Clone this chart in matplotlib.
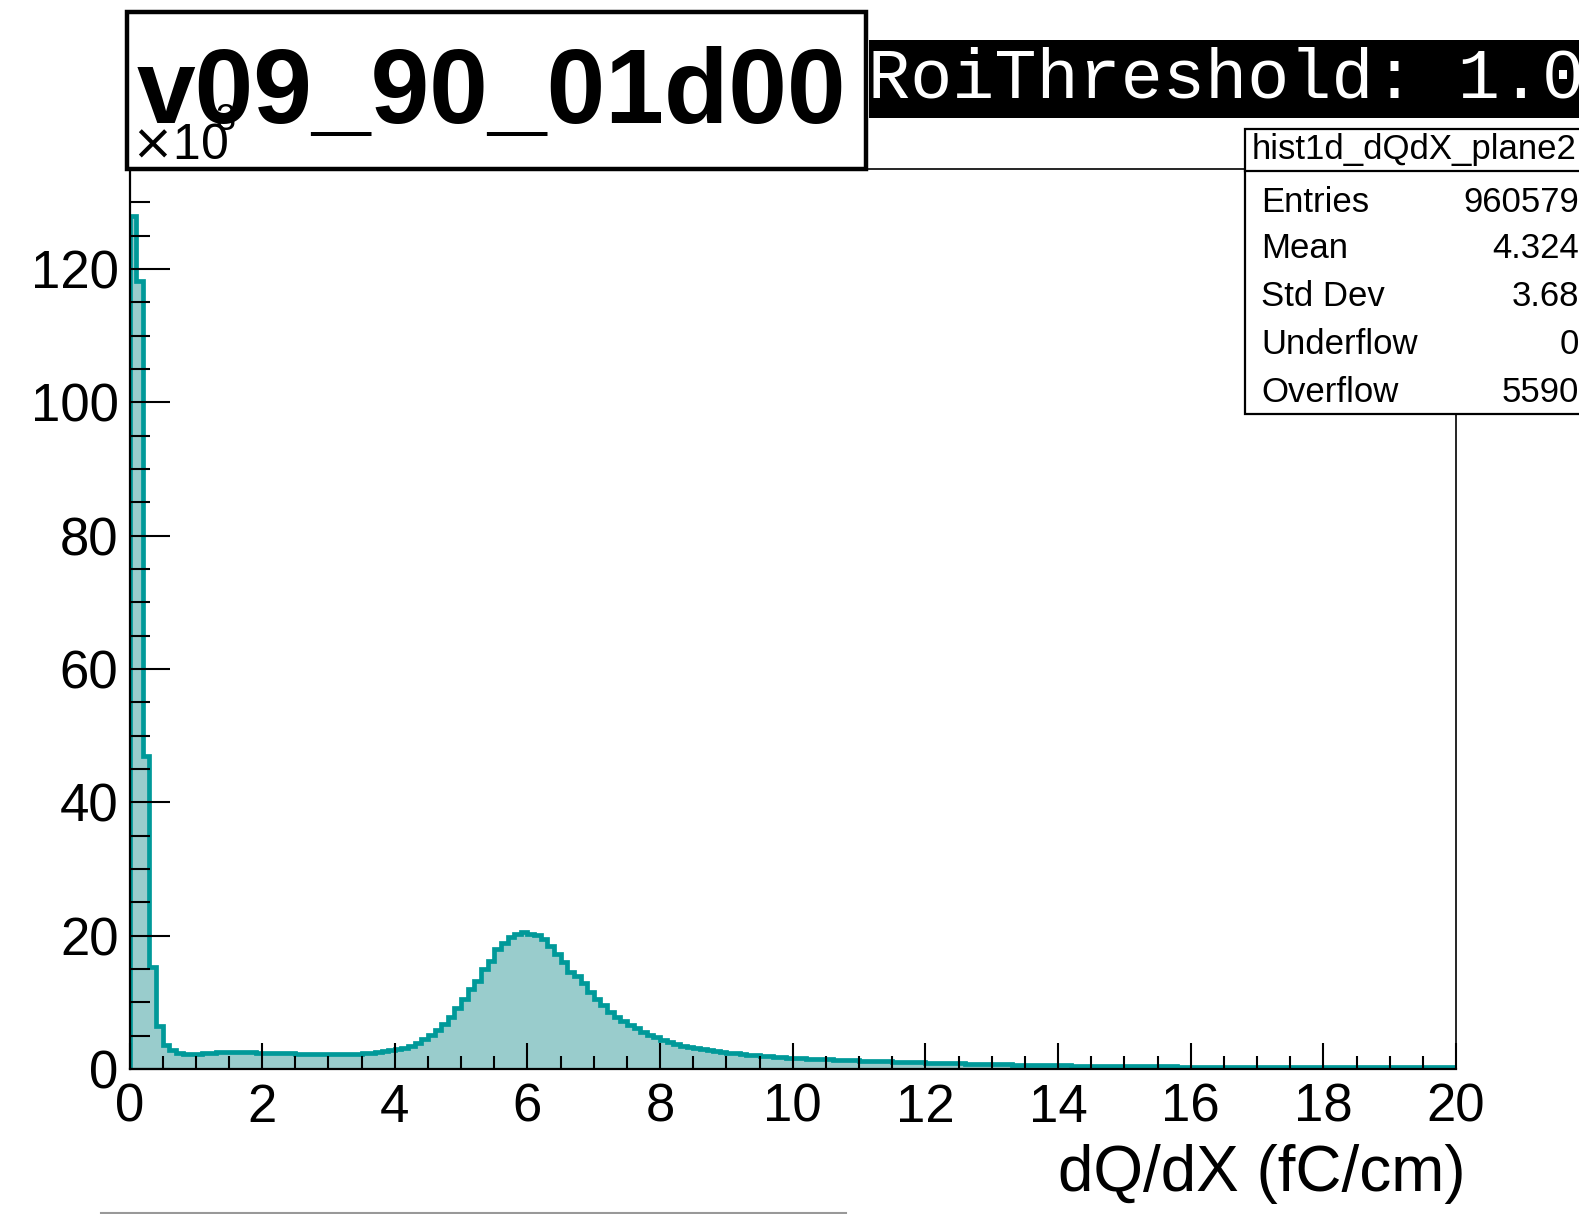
import numpy as np
import matplotlib
matplotlib.use("Agg")
import matplotlib.pyplot as plt
from matplotlib.patches import Rectangle
from matplotlib.lines import Line2D

plt.rcParams['font.family'] = ['Liberation Sans', 'DejaVu Sans']

# histogram contents (units of 10^3), 200 bins of 0.1 from 0 to 20
bin_edges = np.linspace(0, 20, 201)
counts = [
    128.0, 118.2, 47.0, 15.3, 6.4, 3.65, 2.8, 2.45, 2.3, 2.3,
    2.3, 2.35, 2.4, 2.5, 2.5, 2.55, 2.55, 2.5, 2.5, 2.45,
    2.45, 2.4, 2.4, 2.35, 2.35, 2.3, 2.3, 2.3, 2.3, 2.3,
    2.25, 2.25, 2.25, 2.25, 2.3, 2.35, 2.45, 2.55, 2.7, 2.85,
    2.95, 3.2, 3.5, 3.95, 4.45, 5.1, 5.85, 6.75, 7.75, 9.1,
    10.5, 12.0, 13.25, 14.95, 16.2, 17.95, 18.85, 19.85, 20.2, 20.6,
    20.25, 20.15, 19.45, 18.45, 17.25, 16.1, 14.6, 13.95, 12.85, 11.6,
    10.5, 9.6, 8.5, 7.85, 7.25, 6.6, 6.1, 5.6, 5.1, 4.75,
    4.35, 4.1, 3.75, 3.5, 3.35, 3.15, 3.0, 2.85, 2.75, 2.6,
    2.45, 2.35, 2.25, 2.15, 2.05, 1.95, 1.9, 1.85, 1.75, 1.7,
    1.65, 1.6, 1.55, 1.5, 1.5, 1.45, 1.4, 1.38, 1.35, 1.3,
    1.27, 1.23, 1.2, 1.16, 1.13, 1.1, 1.07, 1.04, 1.01, 0.98,
    0.95, 0.92, 0.9, 0.87, 0.85, 0.83, 0.8, 0.78, 0.76, 0.74,
    0.72, 0.7, 0.68, 0.66, 0.64, 0.62, 0.61, 0.59, 0.58, 0.56,
    0.55, 0.53, 0.52, 0.51, 0.5, 0.49, 0.48, 0.47, 0.46, 0.45,
    0.44, 0.43, 0.42, 0.41, 0.4, 0.4, 0.39, 0.38, 0.37, 0.37,
    0.36, 0.36, 0.35, 0.35, 0.34, 0.34, 0.33, 0.33, 0.32, 0.32,
    0.31, 0.31, 0.3, 0.3, 0.3, 0.29, 0.29, 0.29, 0.28, 0.28,
    0.28, 0.27, 0.27, 0.27, 0.26, 0.26, 0.26, 0.26, 0.25, 0.25,
    0.25, 0.25, 0.24, 0.24, 0.24, 0.24, 0.23, 0.23, 0.23, 0.23,
]

stat_labels = ["Entries", "Mean", "Std Dev", "Underflow", "Overflow"]
stat_values = ["960579", "4.324", "3.68", "0", "5590"]
hist_name = "hist1d_dQdX_plane2"
title = "v09_90_01d00"
tag = "RoiThreshold: 1.0"

W, H = 1579, 1214
fig = plt.figure(figsize=(W / 100, H / 100), dpi=100)
fig.patch.set_facecolor("white")

def fx(px):
    return px / W

def fy(py):
    return 1 - py / H

# frame of the histogram pad
x0, x1, y0, y1 = 129.5, 1456, 169, 1069
ax = fig.add_axes([fx(x0), fy(y1), fx(x1) - fx(x0), fy(y0) - fy(y1)])

ax.stairs(counts, bin_edges, fill=True, color="#99cccc", linewidth=0)
ax.stairs(counts, bin_edges, color="#009999", linewidth=3.4)

ax.set_xlim(0, 20)
ax.set_ylim(0, 135)
ax.set_xticks(np.arange(0, 21, 2))
ax.set_xticks(np.arange(0, 20.01, 0.5), minor=True)
ax.set_yticks(np.arange(0, 121, 20))
ax.set_yticks(np.arange(0, 131, 5), minor=True)
ax.tick_params(axis="both", which="both", direction="in", width=1.5, colors="black",
               top=False, right=False, labelsize=38)
ax.tick_params(axis="x", which="major", length=19, pad=10)
ax.tick_params(axis="x", which="minor", length=9.5)
ax.tick_params(axis="y", which="major", length=29, pad=8)
ax.tick_params(axis="y", which="minor", length=14.5)
for s in ["left", "bottom"]:
    ax.spines[s].set_linewidth(1.6)
for s in ["top", "right"]:
    ax.spines[s].set_linewidth(1.2)

fig.text(fx(1466), fy(1174), "dQ/dX (fC/cm)", fontsize=46, ha="right", va="center")

# title box
fig.add_artist(Rectangle((fx(127), fy(169)), fx(866) - fx(127), fy(12) - fy(169),
                         facecolor="white", edgecolor="black", linewidth=3.2,
                         transform=fig.transFigure, zorder=5))
fig.text(fx(491), fy(96), title, fontsize=76, fontweight="bold", ha="center",
         va="center", zorder=7)
fig.text(fx(131), fy(146), r"$\times$10", fontsize=36, ha="left", va="center", zorder=6)
fig.text(fx(216), fy(120), "3", fontsize=26, ha="left", va="center", zorder=6)

# black tag box
fig.add_artist(Rectangle((fx(869), fy(118)), 1.0, fy(40) - fy(118),
                         facecolor="black", edgecolor="none",
                         transform=fig.transFigure, zorder=5))
fig.text(fx(868), fy(80), tag, fontsize=50.5, color="white", ha="left", va="center",
         family="Liberation Mono", zorder=6)

# stats box
bx0, by0, by1 = 1245, 129, 414
fig.add_artist(Rectangle((fx(bx0), fy(by1)), 1.0, fy(by0) - fy(by1),
                         facecolor="white", edgecolor="black", linewidth=1.6,
                         transform=fig.transFigure, zorder=5))
fig.add_artist(Line2D([fx(bx0), 1.0], [fy(171), fy(171)], color="black",
                      linewidth=1.6, transform=fig.transFigure, zorder=6))
fig.text(fx(1252), fy(150), hist_name, fontsize=25, ha="left", va="center", zorder=6)
row_y = [203, 249, 297, 345, 393]
for lab, val, yy in zip(stat_labels, stat_values, row_y):
    fig.text(fx(1261), fy(yy), lab, fontsize=25, ha="left", va="center", zorder=6)
    fig.text(fx(1579), fy(yy), val, fontsize=25, ha="right", va="center", zorder=6)

# thin grey line at the bottom edge
fig.add_artist(Line2D([fx(101), fx(846)], [fy(1212.5), fy(1212.5)], color="#999999",
                      linewidth=1.5, transform=fig.transFigure))

fig.savefig("out.png", dpi=100)
